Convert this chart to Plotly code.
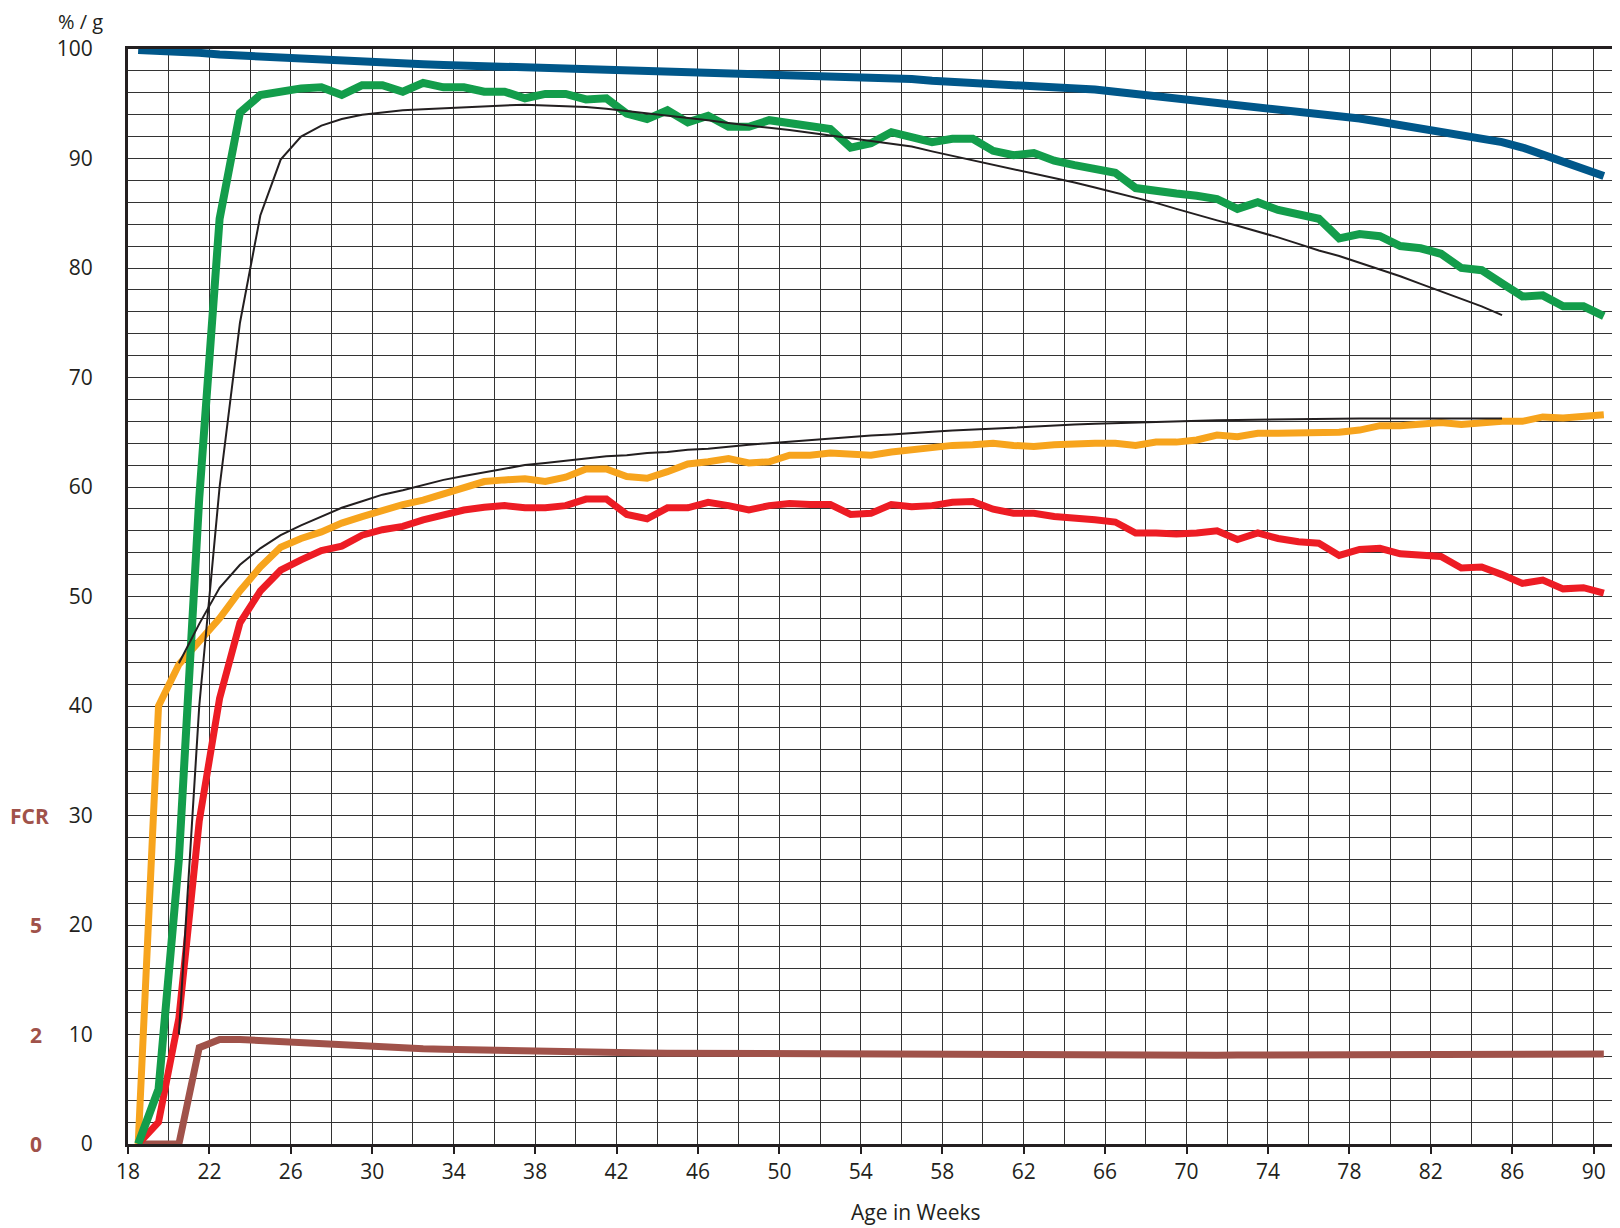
import plotly.graph_objects as go

# ---- data ----
weeks = [w + 0.5 for w in range(18, 91)]          # 18.5 ... 90.5
std_weeks = [w + 0.5 for w in range(20, 86)]      # 20.5 ... 85.5

livability = [99.9, 99.85, 99.8, 99.65, 99.5, 99.4, 99.3, 99.2, 99.1, 98.95,
              98.85, 98.75, 98.7, 98.65, 98.6, 98.55, 98.5, 98.45, 98.4, 98.35,
              98.3, 98.2, 98.15, 98.05, 98.0, 97.95, 97.9, 97.85, 97.8, 97.75,
              97.7, 97.65, 97.6, 97.55, 97.5, 97.45, 97.4, 97.35, 97.25, 97.1,
              97.0, 96.95, 96.85, 96.8, 96.7, 96.55, 96.45, 96.3, 96.1, 95.9,
              95.7, 95.5, 95.35, 95.2, 95.0, 94.8, 94.6, 94.35, 94.15, 93.9,
              93.65, 93.35, 93.05, 92.85, 92.55, 92.25, 91.9, 91.5, 91.0, 90.35,
              89.7, 89.1, 88.4]

production = [0, 5, 26, 59, 84.5, 94.2, 95.8, 96.1, 96.4, 96.5,
              95.8, 96.7, 96.7, 96.1, 96.9, 96.5, 96.5, 96.1, 96.1, 95.5,
              95.9, 95.9, 95.4, 95.5, 94.1, 93.6, 94.4, 93.3, 93.9, 92.9,
              92.9, 93.5, 93.2, 92.9, 92.7, 91.0, 91.4, 92.4, 92.0, 91.5,
              91.8, 91.8, 90.7, 90.3, 90.5, 89.8, 89.4, 89.0, 88.7, 87.3,
              87.0, 86.8, 86.6, 86.3, 85.4, 86.0, 85.3, 84.9, 84.5, 82.7,
              83.1, 82.9, 82.0, 81.8, 81.3, 80.0, 79.8, 78.6, 77.4, 77.5,
              76.5, 76.5, 75.6]

egg_weight = [0, 40, 43.8, 45.9, 48.0, 50.5, 52.7, 54.5, 55.3, 55.9,
              56.7, 57.3, 57.9, 58.4, 58.8, 59.4, 60.0, 60.5, 60.65, 60.75,
              60.5, 60.9, 61.65, 61.65, 60.95, 60.8, 61.4, 62.1, 62.3, 62.6,
              62.2, 62.3, 62.9, 62.9, 63.1, 63.0, 62.9, 63.2, 63.4, 63.7,
              63.8, 63.85, 64.0, 63.8, 63.7, 63.85, 64.0, 64.0, 64.0, 63.8,
              64.1, 64.1, 64.3, 64.75, 64.6, 64.9, 64.9, 64.9, 65.0, 65.0,
              65.2, 65.6, 65.6, 65.7, 65.9, 65.7, 65.9, 66.0, 66.0, 66.4,
              66.3, 66.4, 66.6]

egg_mass = [0, 2, 11.5, 29.5, 40.7, 47.6, 50.5, 52.4, 53.35, 54.2,
            54.6, 55.6, 56.1, 56.4, 57.0, 57.45, 57.9, 58.15, 58.3, 58.1,
            58.1, 58.3, 58.9, 58.9, 57.5, 57.1, 58.1, 58.1, 58.6, 58.3,
            57.9, 58.3, 58.5, 58.4, 58.4, 57.5, 57.6, 58.4, 58.2, 58.3,
            58.6, 58.67, 57.97, 57.6, 57.6, 57.3, 57.2, 57.0, 56.8, 55.8,
            55.8, 55.7, 55.8, 56.0, 55.2, 55.8, 55.3, 55.0, 54.87, 53.75,
            54.3, 54.4, 53.9, 53.8, 53.65, 52.6, 52.7, 52.0, 51.2, 51.5,
            50.7, 50.8, 50.3]

fcr_scaled = [0, 0, 0, 8.8, 9.55, 9.55, 9.45, 9.3, 9.15, 9.05,
              9.0, 8.94, 8.85, 8.75, 8.7, 8.65, 8.6, 8.55, 8.5, 8.47,
              8.43, 8.4, 8.37, 8.34, 8.32, 8.3, 8.29, 8.28, 8.27, 8.25,
              8.22, 8.2, 8.18, 8.16, 8.15, 8.13, 8.12, 8.12, 8.11, 8.1,
              8.1, 8.1, 8.1, 8.08, 8.05, 8.05, 8.04, 8.04, 8.03, 8.03,
              8.03, 8.03, 8.03, 8.1, 8.12, 8.12, 8.12, 8.12, 8.12, 8.12,
              8.12, 8.12, 8.12, 8.12, 8.12, 8.12, 8.12, 8.2, 8.22, 8.22,
              8.22, 8.22, 8.22]

std_production = [10, 40, 60, 75, 84.8, 89.9, 92.0, 93.0, 93.6, 94.0,
                  94.2, 94.4, 94.5, 94.6, 94.7, 94.8, 94.85, 94.9, 94.85, 94.8,
                  94.7, 94.55, 94.35, 94.1, 93.9, 93.7, 93.5, 93.25, 93.0, 92.8,
                  92.6, 92.35, 92.1, 91.85, 91.6, 91.4, 91.1, 90.65, 90.25, 89.8,
                  89.4, 89.0, 88.6, 88.2, 87.8, 87.35, 86.9, 86.45, 85.95, 85.4,
                  84.85, 84.35, 83.85, 83.35, 82.8, 82.2, 81.6, 81.1, 80.5, 79.9,
                  79.25, 78.55, 77.85, 77.2, 76.5, 75.7]

std_egg_weight = [43.9, 47.5, 50.8, 52.9, 54.4, 55.6, 56.5, 57.3, 58.1, 58.7,
                  59.3, 59.7, 60.2, 60.65, 61.0, 61.35, 61.7, 62.0, 62.2, 62.4,
                  62.6, 62.8, 62.9, 63.1, 63.2, 63.4, 63.5, 63.7, 63.85, 64.0,
                  64.15, 64.3, 64.45, 64.6, 64.7, 64.8, 64.95, 65.05, 65.15, 65.25,
                  65.33, 65.4, 65.5, 65.6, 65.7, 65.77, 65.83, 65.9, 65.95, 66.0,
                  66.05, 66.1, 66.13, 66.16, 66.18, 66.2, 66.22, 66.24, 66.25, 66.25,
                  66.25, 66.25, 66.25, 66.25, 66.25, 66.25]

x_tick_vals = list(range(18, 91, 4))
y_tick_vals = list(range(0, 101, 10))
fcr_labels = ["0", "2", "5", "FCR"]
fcr_positions = [0, 10, 20, 30]

# ---- styles ----
FONT = "Open Sans, Noto Sans, DejaVu Sans, sans-serif"
TXT = "#231f20"
BLUE = "#00578a"
GREEN = "#139d4b"
ORANGE = "#f7a41d"
RED = "#ed1c24"
BROWN = "#a0524a"
BLACK = "#231f20"

fig = go.Figure()

def add_line(x, y, color, width):
    fig.add_trace(go.Scatter(x=x, y=y, mode="lines",
                             line=dict(color=color, width=width),
                             hoverinfo="skip", showlegend=False))

add_line(weeks, fcr_scaled, BROWN, 7)
add_line(weeks, egg_mass, RED, 7)
add_line(weeks, egg_weight, ORANGE, 7)
add_line(weeks, production, GREEN, 8)
add_line(weeks, livability, BLUE, 8)
add_line(std_weeks, std_production, BLACK, 2)
add_line(std_weeks, std_egg_weight, BLACK, 2)

GRID = "#333333"
fig.update_xaxes(range=[18, 91], tickmode="array", tickvals=x_tick_vals,
                 ticks="outside", ticklen=7, tickwidth=2, tickcolor=BLACK,
                 showgrid=True, gridcolor=GRID, gridwidth=1.4,
                 minor=dict(dtick=2, tick0=18, showgrid=True, gridcolor=GRID, gridwidth=1.4),
                 showline=True, linecolor=BLACK, linewidth=3, mirror=True,
                 zeroline=False,
                 tickfont=dict(family=FONT, size=21, color=TXT))
fig.update_yaxes(range=[0, 100], tickmode="array", tickvals=y_tick_vals,
                 ticks="", showgrid=True, gridcolor=GRID, gridwidth=1.4,
                 minor=dict(dtick=2, tick0=0, showgrid=True, gridcolor=GRID, gridwidth=1.4),
                 showline=True, linecolor=BLACK, linewidth=3, mirror=True,
                 zeroline=False, ticklabelstandoff=28,
                 tickfont=dict(family=FONT, size=21, color=TXT))

annotations = []
for lab, pos in zip(fcr_labels, fcr_positions):
    xp = -0.0665 if lab == "FCR" else -0.0618
    annotations.append(dict(text=f"<b>{lab}</b>", x=xp, xref="paper", y=pos, yref="y",
                            showarrow=False, xanchor="center", yanchor="middle",
                            font=dict(family=FONT, size=21, color=BROWN)))
annotations.append(dict(text="% / g", x=-0.032, xref="paper", y=1.0, yref="paper",
                        yshift=28, showarrow=False, xanchor="center", yanchor="middle",
                        borderpad=0,
                        font=dict(family=FONT, size=20, color=TXT)))
annotations.append(dict(text="Age in Weeks", x=0.53, xref="paper", y=0, yref="paper",
                        yshift=-68, showarrow=False, xanchor="center", yanchor="middle",
                        font=dict(family=FONT, size=21, color=TXT)))

fig.update_layout(width=1612, height=1220,
                  margin=dict(l=120, r=3, t=41, b=84),
                  paper_bgcolor="white", plot_bgcolor="white",
                  annotations=annotations, showlegend=False)

fig.write_html("out.html")
